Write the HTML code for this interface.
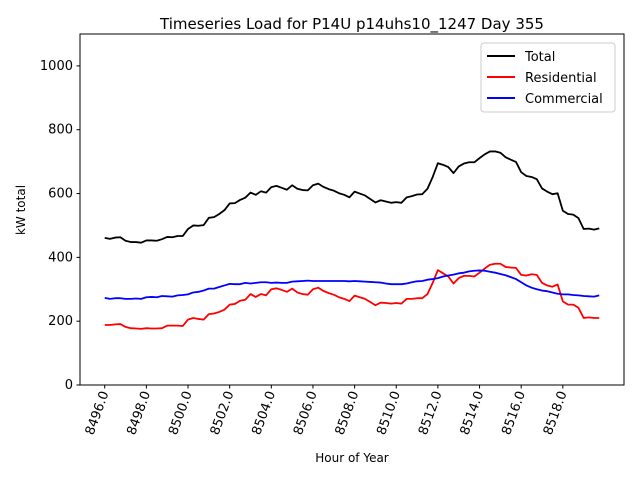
<!DOCTYPE html>
<html><head><meta charset="utf-8"><style>
body{margin:0;background:#fff}
svg{font-family:"DejaVu Sans","Liberation Sans",sans-serif}
</style></head><body>
<svg id="c" width="640" height="480">
<rect width="640" height="480" fill="#fff"/>
<text x="352" y="29" font-size="15" text-anchor="middle">Timeseries Load for P14U p14uhs10_1247  Day 355</text>
<g id="plot"></g>
<rect x="80" y="34" width="544" height="351" fill="none" stroke="#000" stroke-width="1"/>
<text x="352" y="462" font-size="12" text-anchor="middle">Hour of Year</text>
<text transform="translate(25,210) rotate(-90)" font-size="12" text-anchor="middle">kW total</text>
<g>
<rect x="481" y="43" width="134" height="69" rx="3" fill="#fff" stroke="#ccc"/>
<line x1="487" y1="56" x2="515" y2="56" stroke="#000" stroke-width="2"/>
<text x="525" y="61" font-size="13">Total</text>
<line x1="487" y1="77" x2="515" y2="77" stroke="red" stroke-width="2"/>
<text x="525" y="82" font-size="13">Residential</text>
<line x1="487" y1="98" x2="515" y2="98" stroke="blue" stroke-width="2"/>
<text x="525" y="103" font-size="13">Commercial</text>
</g>
</svg>
<script>
const residential=[188,188,190,191,182,178,177,176,178,177,177,178,186,186,186,185,205,210,207,205,222,224,229,236,252,254,264,267,285,276,285,281,300,303,298,292,302,290,285,283,300,305,295,288,283,275,270,263,280,275,270,260,250,258,257,255,257,255,270,270,272,272,285,320,360,350,340,318,335,342,342,340,352,365,377,380,380,370,368,367,345,343,347,345,320,312,308,315,262,252,252,242,210,212,210,210];
const commercial=[273,270,272,272,270,270,271,270,275,276,275,279,278,277,281,282,284,290,292,296,302,302,307,312,317,316,316,320,318,320,322,322,320,321,320,320,324,325,326,327,326,326,326,326,326,326,326,325,326,325,324,323,322,321,318,316,316,316,318,322,325,326,330,332,335,340,343,346,350,352,356,358,359,358,355,352,348,344,338,332,322,312,305,300,296,294,290,286,284,284,282,281,279,278,277,281];
const total=[461,458,462,463,452,448,448,446,453,453,452,457,464,463,467,467,489,500,499,501,524,526,536,548,569,570,580,587,603,596,607,603,620,624,618,612,626,615,611,610,626,631,621,614,609,601,596,588,606,600,594,583,572,579,575,571,573,571,588,592,597,598,615,652,695,690,683,664,685,694,698,698,711,723,732,732,728,714,706,699,667,655,652,645,616,606,598,601,546,536,534,523,489,490,487,491];
const startHour=8496, step=0.25;
const xTicks=[8496,8498,8500,8502,8504,8506,8508,8510,8512,8514,8516,8518];
const yTicks=[0,200,400,600,800,1000];
const xmin=8494.8125,xmax=8520.9375,ymin=0,ymax=1100;
const X=h=>80+(h-xmin)/(xmax-xmin)*544;
const Y=v=>385-(v-ymin)/(ymax-ymin)*351;
const NS="http://www.w3.org/2000/svg";
const g=document.getElementById('plot');
function mk(t,a){const e=document.createElementNS(NS,t);for(const k in a)e.setAttribute(k,a[k]);return e;}
yTicks.forEach(v=>{
 const l=mk('line',{x1:76.5,x2:80,y1:Y(v),y2:Y(v),stroke:'#000'});
 
 
 g.appendChild(l);
 const t=mk('text',{x:73,y:Y(v)+4,'font-size':13,'text-anchor':'end'});
 
 
 t.textContent=v;g.appendChild(t);
});
xTicks.forEach(h=>{
 const l=mk('line',{x1:X(h),x2:X(h),y1:385,y2:388.5,stroke:'#000'});
 
 
 g.appendChild(l);
 const t=mk('text',{transform:`translate(${X(h)+4},393) rotate(-70)`,'font-size':13,'text-anchor':'end'});
 
 
 t.textContent=h.toFixed(1);g.appendChild(t);
});
function line(arr,color,name){
 const p=arr.map((v,i)=>X(startHour+i*step).toFixed(2)+','+Y(v).toFixed(2)).join(' ');
 const e=mk('polyline',{points:p,fill:'none',stroke:color,'stroke-width':1.8,'stroke-linejoin':'round'});
 
 
 g.appendChild(e);
}
line(total,'#000','total-line');
line(residential,'red','residential-line');
line(commercial,'blue','commercial-line');
</script>
</body></html>
